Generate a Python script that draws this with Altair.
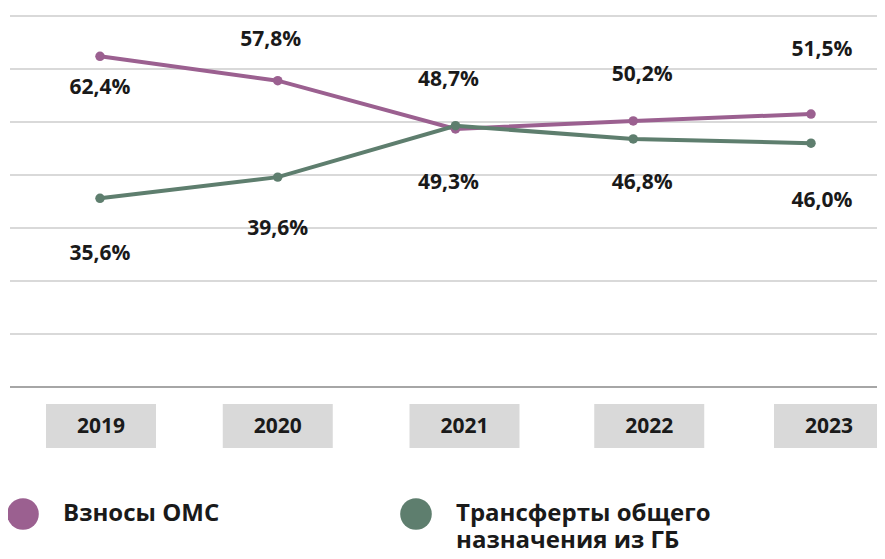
import altair as alt
import pandas as pd

years = ["2019", "2020", "2021", "2022", "2023"]
series_names = ["Взносы ОМС", "Трансферты общего назначения из ГБ"]
oms_values = [62.4, 57.8, 48.7, 50.2, 51.5]
transfer_values = [35.6, 39.6, 49.3, 46.8, 46.0]
colors = ["#9b6090", "#5e7e6e"]
grid_values = [10, 20, 30, 40, 50, 60, 70]

# layout: label offsets (dx, dy) in pixels from each point
label_offsets = {
    series_names[0]: [(0, 32), (-7, -41), (-7, -49), (9, -46), (11, -64)],
    series_names[1]: [(0, 56), (0, 52), (-7, 57), (9, 44), (11, 58)],
}
# layout: horizontal shift of the year boxes relative to the points
box_shift = [1, 0, 9, 16, 18]

rows = []
for s, vals in zip(series_names, [oms_values, transfer_values]):
    for yr, v in zip(years, vals):
        rows.append({"year": yr, "series": s, "value": v,
                     "label": f"{v:.1f}".replace(".", ",") + "%"})
df = pd.DataFrame(rows)
years_df = pd.DataFrame({"year": years})
grid_df = pd.DataFrame({"value": grid_values})
base_df = pd.DataFrame({"value": [0]})

FONT = "Open Sans"

x_pts = alt.X("year:N", sort=years,
              scale=alt.Scale(type="point", domain=years, range=[90, 801], padding=0),
              axis=None)
y_enc = alt.Y("value:Q", scale=alt.Scale(domain=[0, 70], nice=False, zero=True), axis=None)
color_scale = alt.Scale(domain=series_names, range=colors)

base = alt.Chart(df)

grid = alt.Chart(grid_df).mark_rule(color="#d9d9d9", strokeWidth=2).encode(y=y_enc)
baseline = alt.Chart(base_df).mark_rule(color="#a6a6a6", strokeWidth=2).encode(y=y_enc)

line_layers = [
    base.transform_filter(alt.datum.series == s)
    .mark_line(strokeWidth=4, color=c)
    .encode(x=x_pts, y=y_enc)
    for s, c in zip(series_names, colors)
]

legend_label_expr = (
    "datum.label == 'Трансферты общего назначения из ГБ'"
    " ? ['Трансферты общего', 'назначения из ГБ'] : [datum.label, ' ']"
)

points = base.mark_circle(size=90, opacity=1).encode(
    x=x_pts, y=y_enc,
    color=alt.Color(
        "series:N", scale=color_scale, sort=series_names,
        legend=alt.Legend(
            orient="none", legendX=-3, legendY=482, direction="horizontal",
            title=None, symbolType="circle", symbolSize=1000, symbolStrokeWidth=0,
            symbolOpacity=1, labelFontSize=24, labelFont=FONT, labelFontWeight="bold",
            labelColor="#1a1a1a", labelOffset=24, columnPadding=180, labelLimit=500,
            padding=0, labelExpr=legend_label_expr,
        ),
    ),
)

text_layers = []
for s in series_names:
    for i, yr in enumerate(years):
        dx, dy = label_offsets[s][i]
        text_layers.append(
            base.transform_filter((alt.datum.series == s) & (alt.datum.year == yr))
            .mark_text(dx=dx, dy=dy, fontSize=21, fontWeight="bold", font=FONT, color="#1a1a1a")
            .encode(x=x_pts, y=y_enc, text="label:N")
        )

box_layers = []
for i, yr in enumerate(years):
    ydf = alt.Chart(years_df).transform_filter(alt.datum.year == yr)
    box_layers.append(
        ydf.mark_bar(size=110, color="#d9d9d9", xOffset=box_shift[i]).encode(
            x=x_pts, y=alt.value(388), y2=alt.value(432))
    )
    box_layers.append(
        ydf.mark_text(fontSize=21, fontWeight="bold", font=FONT, color="#1a1a1a",
                      dx=box_shift[i]).encode(
            x=x_pts, y=alt.value(411), text="year:N")
    )

chart = alt.layer(grid, baseline, *line_layers, points, *text_layers, *box_layers).properties(
    width=867, height=371,
    padding={"left": 2, "top": 8, "right": 0, "bottom": 164},
    autosize=alt.AutoSizeParams(type="none"),
    background="white",
).configure(
    style={"guide-label": {"lineHeight": 27}}
).configure_view(strokeWidth=0)

chart.save("out.html", embed_options={"renderer": "svg", "actions": False})
